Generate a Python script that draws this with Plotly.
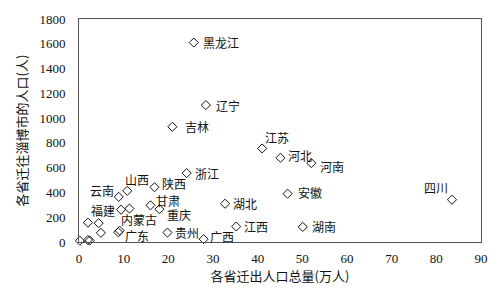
import plotly.graph_objects as go

# Data
provinces = ["黑龙江", "辽宁", "吉林", "江苏", "河北", "河南", "浙江", "安徽", "四川",
             "湖北", "江西", "湖南", "广西", "贵州", "广东", "陕西", "甘肃", "重庆",
             "云南", "山西", "福建", "内蒙古"]
out_total = [25.7, 28.4, 20.9, 41.0, 45.1, 52.0, 24.1, 46.7, 83.5,
             32.7, 35.2, 50.1, 27.9, 19.8, 8.8, 16.9, 16.0, 18.0,
             8.9, 10.8, 9.4, 11.3]
to_zibo = [1610, 1105, 930, 755, 680, 637, 556, 390, 341,
           309, 125, 122, 23, 76, 78, 442, 296, 265,
           364, 413, 261, 270]
# unlabelled provinces
other_out = [2.0, 4.4, 4.9, 0.2, 2.0, 2.4, 9.1]
other_to = [156, 152, 74, 10, 16, 12, 92]

# label placement (style only): anchor, dx, dy in pixels
label_style = {
    "黑龙江": ("left", 8, 0), "辽宁": ("left", 9, 0), "吉林": ("left", 12, 0),
    "江苏": ("left", 2, -11), "河北": ("left", 7, -2), "河南": ("left", 8, 3),
    "浙江": ("left", 7, 0), "安徽": ("left", 9, -1), "四川": ("right", -3, -12),
    "湖北": ("left", 7, 0), "江西": ("left", 7, 0), "湖南": ("left", 8, 0),
    "广西": ("left", 5, -3), "贵州": ("left", 7, 0), "广东": ("left", 6, 3),
    "陕西": ("left", 7, -4), "甘肃": ("left", 5, -5), "重庆": ("left", 7, 5),
    "云南": ("right", -4, -6), "山西": ("left", -3, -11), "福建": ("right", -5, 1),
    "内蒙古": ("left", -9, 11),
}

cjk = "Noto Sans CJK SC"
num_font = "Liberation Serif"

fig = go.Figure()
marker = dict(symbol="diamond-open", size=7, color="#111", line=dict(width=1, color="#111"))
fig.add_trace(go.Scatter(x=out_total + other_out, y=to_zibo + other_to, mode="markers",
                         marker=marker, cliponaxis=False, showlegend=False,
                         hoverinfo="skip"))

for name, xv, yv in zip(provinces, out_total, to_zibo):
    anchor, dx, dy = label_style[name]
    fig.add_annotation(x=xv, y=yv, text=name, showarrow=False, xanchor=anchor,
                       yanchor="middle", xshift=dx, yshift=-dy, borderpad=0,
                       font=dict(family=cjk, size=12, color="#111"))

fig.update_layout(
    width=500, height=293,
    margin=dict(l=79, r=12, t=14, b=49),
    paper_bgcolor="white", plot_bgcolor="white",
    font=dict(family=num_font, size=13, color="#111"),
    xaxis=dict(range=[0, 90], tickvals=[0, 10, 20, 30, 40, 50, 60, 70, 80, 90],
               showgrid=False, zeroline=False, showline=True, mirror=True,
               linecolor="#555", linewidth=1, ticks="", ticklabelstandoff=4,
               tickfont=dict(family=num_font, size=13, color="#111"),
               title=dict(text="各省迁出人口总量(万人)", standoff=6,
                          font=dict(family=cjk, size=13, color="#111"))),
    yaxis=dict(range=[0, 1800], tickvals=[0, 200, 400, 600, 800, 1000, 1200, 1400, 1600, 1800],
               showgrid=False, zeroline=False, showline=True, mirror=True,
               linecolor="#555", linewidth=1, ticks="", ticklabelstandoff=10,
               tickfont=dict(family=num_font, size=13, color="#111"),
               title=dict(text="各省迁往淄博市的人口(人)", standoff=8,
                          font=dict(family=cjk, size=13, color="#111"))),
)

fig.write_html("out.html")
